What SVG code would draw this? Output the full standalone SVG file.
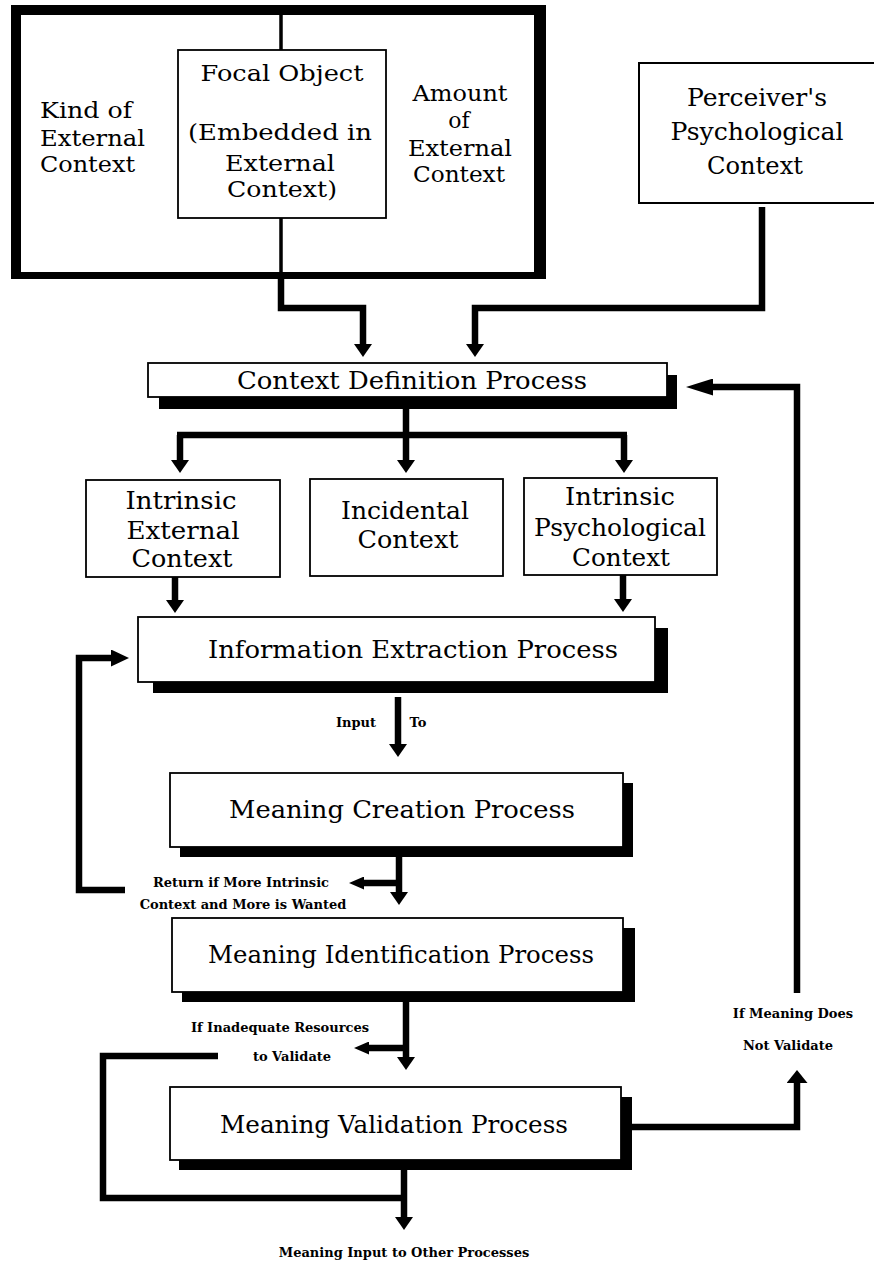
<svg xmlns="http://www.w3.org/2000/svg" width="874" height="1266" viewBox="0 0 874 1266">
<style>
.t{font-family:"DejaVu Serif","Liberation Serif",serif;font-size:25px;fill:#000;text-anchor:middle}
.tt{font-size:22px}
.tl{text-anchor:start}
.s{font-family:"DejaVu Serif","Liberation Serif",serif;font-size:13px;font-weight:bold;fill:#000;text-anchor:middle}
.box{fill:#fff;stroke:#000;stroke-width:1.8}
.sh{fill:#000}
.c{fill:none;stroke:#000;stroke-width:6.5;stroke-linejoin:miter}
.thin{fill:none;stroke:#000;stroke-width:3.5}
</style>
<defs>
<marker id="ah" markerUnits="userSpaceOnUse" viewBox="0 0 13 18" refX="0" refY="9" markerWidth="13" markerHeight="18" orient="auto"><path d="M0,0 L13,9 L0,18 Z" fill="#000"/></marker>
<marker id="ahm" markerUnits="userSpaceOnUse" viewBox="0 0 18 17" refX="0" refY="8.5" markerWidth="18" markerHeight="17" orient="auto"><path d="M0,0 L18,8.5 L0,17 Z" fill="#000"/></marker>
<marker id="ahs" markerUnits="userSpaceOnUse" viewBox="0 0 15 13" refX="0" refY="6.5" markerWidth="15" markerHeight="13" orient="auto"><path d="M0,0 L15,6.5 L0,13 Z" fill="#000"/></marker>
<marker id="ahw" markerUnits="userSpaceOnUse" viewBox="0 0 13 21" refX="0" refY="10.5" markerWidth="13" markerHeight="21" orient="auto"><path d="M0,0 L13,10.5 L0,21 Z" fill="#000"/></marker>
<marker id="ahl" markerUnits="userSpaceOnUse" viewBox="0 0 27 17" refX="0" refY="8.5" markerWidth="27" markerHeight="17" orient="auto"><path d="M0,0 L27,8.5 L0,17 Z" fill="#000"/></marker>
</defs>

<g id="external-context">
<path d="M11,5 H546 V279 H11 Z M21,15 V272 H534 V15 Z" fill="#000" fill-rule="evenodd"/>
<path class="thin" d="M281,15 V50 M281,218 V272"/>
<text class="t tt tl" x="40" y="118" textLength="92" lengthAdjust="spacingAndGlyphs">Kind of</text>
<text class="t tt tl" x="40" y="146" textLength="105" lengthAdjust="spacingAndGlyphs">External</text>
<text class="t tt tl" x="40" y="172" textLength="95" lengthAdjust="spacingAndGlyphs">Context</text>
<text class="t tt" x="460" y="101" textLength="95" lengthAdjust="spacingAndGlyphs">Amount</text>
<text class="t tt" x="459" y="128">of</text>
<text class="t tt" x="460" y="156" textLength="104" lengthAdjust="spacingAndGlyphs">External</text>
<text class="t tt" x="459" y="182" textLength="92" lengthAdjust="spacingAndGlyphs">Context</text>
</g>

<g id="focal-object">
<rect class="box" x="178" y="50" width="208" height="168"/>
<text class="t tt" x="282" y="81" textLength="163" lengthAdjust="spacingAndGlyphs">Focal Object</text>
<text class="t tt" x="280" y="140" textLength="184" lengthAdjust="spacingAndGlyphs">(Embedded in</text>
<text class="t tt" x="280" y="171" textLength="110" lengthAdjust="spacingAndGlyphs">External</text>
<text class="t tt" x="282" y="197" textLength="110" lengthAdjust="spacingAndGlyphs">Context)</text>
</g>

<g id="perceiver">
<path d="M874,63 H639 V203 H874" fill="#fff" stroke="#000" stroke-width="2"/>
<text class="t" x="757" y="106" textLength="140" lengthAdjust="spacingAndGlyphs">Perceiver's</text>
<text class="t" x="757" y="140" textLength="173" lengthAdjust="spacingAndGlyphs">Psychological</text>
<text class="t" x="755" y="174" textLength="96" lengthAdjust="spacingAndGlyphs">Context</text>
</g>

<g id="context-definition">
<rect class="sh" x="159" y="375" width="518" height="34"/>
<rect class="box" x="148" y="363" width="519" height="34"/>
<text class="t" x="412" y="389" textLength="350" lengthAdjust="spacingAndGlyphs">Context Definition Process</text>
</g>

<g id="intrinsic-external">
<rect class="box" x="86" y="480" width="194" height="97"/>
<text class="t" x="181" y="509" textLength="111" lengthAdjust="spacingAndGlyphs">Intrinsic</text>
<text class="t" x="183" y="539" textLength="113" lengthAdjust="spacingAndGlyphs">External</text>
<text class="t" x="182" y="567" textLength="101" lengthAdjust="spacingAndGlyphs">Context</text>
</g>

<g id="incidental">
<rect class="box" x="310" y="479" width="193" height="97"/>
<text class="t" x="405" y="519" textLength="128" lengthAdjust="spacingAndGlyphs">Incidental</text>
<text class="t" x="408" y="548" textLength="101" lengthAdjust="spacingAndGlyphs">Context</text>
</g>

<g id="intrinsic-psychological">
<rect class="box" x="524" y="478" width="193" height="97"/>
<text class="t" x="620" y="505" textLength="110" lengthAdjust="spacingAndGlyphs">Intrinsic</text>
<text class="t" x="620" y="536" textLength="172" lengthAdjust="spacingAndGlyphs">Psychological</text>
<text class="t" x="621" y="566" textLength="98" lengthAdjust="spacingAndGlyphs">Context</text>
</g>

<g id="information-extraction">
<rect class="sh" x="153" y="628" width="515" height="65"/>
<rect class="box" x="138" y="617" width="517" height="65"/>
<text class="t" x="413" y="658" textLength="410" lengthAdjust="spacingAndGlyphs">Information Extraction Process</text>
</g>

<g id="meaning-creation">
<rect class="sh" x="180" y="783" width="453" height="74"/>
<rect class="box" x="170" y="773" width="453" height="74"/>
<text class="t" x="402" y="818" textLength="346" lengthAdjust="spacingAndGlyphs">Meaning Creation Process</text>
</g>

<g id="meaning-identification">
<rect class="sh" x="182" y="928" width="453" height="74"/>
<rect class="box" x="172" y="918" width="451" height="74"/>
<text class="t" x="401" y="963" textLength="386" lengthAdjust="spacingAndGlyphs">Meaning Identification Process</text>
</g>

<g id="meaning-validation">
<rect class="sh" x="179" y="1097" width="453" height="73"/>
<rect class="box" x="170" y="1087" width="451" height="73"/>
<text class="t" x="394" y="1133" textLength="348" lengthAdjust="spacingAndGlyphs">Meaning Validation Process</text>
</g>

<g id="connectors">
<path class="c" d="M281,279 V308 H363 V344" marker-end="url(#ah)"/>
<path class="c" d="M762,207 V308 H475 V344" marker-end="url(#ah)"/>
<path class="c" d="M406,409 V435 M177,435 H627"/>
<path class="c" d="M180,435 V460" marker-end="url(#ah)"/>
<path class="c" d="M406,435 V460" marker-end="url(#ah)"/>
<path class="c" d="M624,435 V460" marker-end="url(#ah)"/>
<path class="c" d="M175,577 V600" marker-end="url(#ah)"/>
<path class="c" d="M623,575 V599" marker-end="url(#ah)"/>
<path class="c" d="M125,890 H79 V658 H111" marker-end="url(#ahm)"/>
<path class="c" d="M398,697 V744" marker-end="url(#ah)"/>
<path class="c" d="M399,857 V892" marker-end="url(#ah)"/>
<path class="c" d="M399,883 H364" marker-end="url(#ahs)"/>
<path class="c" d="M406,1002 V1057" marker-end="url(#ah)"/>
<path class="c" d="M406,1048 H369" marker-end="url(#ahs)"/>
<path class="c" d="M218,1056 H103 V1198 H404"/>
<path class="c" d="M404,1170 V1217" marker-end="url(#ah)"/>
<path class="c" d="M632,1127 H797 V1083" marker-end="url(#ahw)"/>
<path class="c" d="M797,993 V387 H713" marker-end="url(#ahl)"/>
</g>

<g id="labels">
<text class="s" x="356" y="727">Input</text>
<text class="s" x="418" y="727">To</text>
<text class="s" x="241" y="887">Return if More Intrinsic</text>
<text class="s" x="243" y="909">Context and More is Wanted</text>
<text class="s" x="280" y="1032">If Inadequate Resources</text>
<text class="s" x="292" y="1061">to Validate</text>
<text class="s" x="793" y="1018">If Meaning Does</text>
<text class="s" x="788" y="1050">Not Validate</text>
<text class="s" x="404" y="1257">Meaning Input to Other Processes</text>
</g>
</svg>
